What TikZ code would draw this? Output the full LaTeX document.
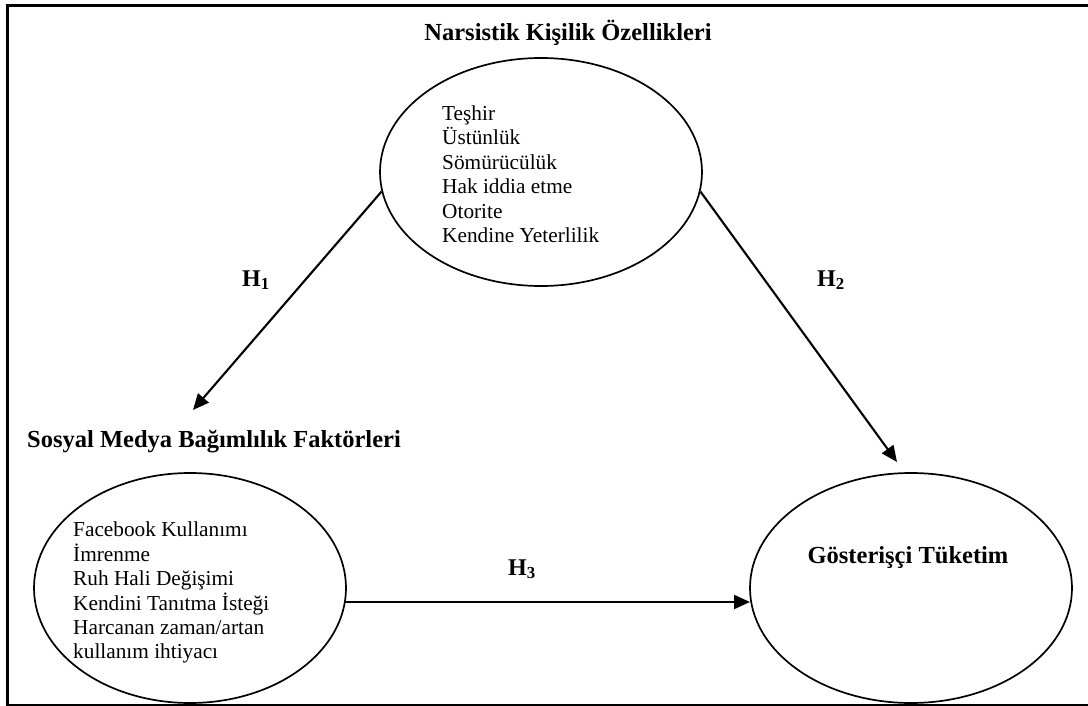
\documentclass[tikz,border=0pt]{standalone}
\usepackage{fontspec}
\setmainfont{Liberation Serif}
\usetikzlibrary{arrows.meta,shapes.geometric}
\begin{document}
\begin{tikzpicture}[x=1pt,y=-1pt,
  oval/.style={draw,ellipse,line width=1.7pt,inner sep=0pt},
  item/.style={align=left,anchor=north west,inner sep=0pt,font=\fontsize{21.3}{24.4}\selectfont},
  head/.style={inner sep=0pt,anchor=base,font=\fontsize{24.5}{28}\selectfont\bfseries},
  hyp/.style={inner sep=0pt,anchor=base,font=\fontsize{24}{28}\selectfont\bfseries},
  link/.style={line width=2.1pt,-{Triangle[length=16pt,width=14pt]}}]
\useasboundingbox (0,0) rectangle (1088,706);
% frame
\draw[line width=2.4pt] (1090,5.5) -- (7.5,5.5) -- (7.5,705) -- (1090,705);

% the three constructs
\node[oval,minimum width=322pt,minimum height=228pt] (narc) at (541,172) {};
\node[oval,minimum width=312pt,minimum height=230pt] (sosyal) at (190,588) {};
\node[oval,minimum width=322pt,minimum height=230pt] (gost) at (911,588) {};

\node[head] (narcT) at (568,41) {Narsistik Kişilik Özellikleri};
\node[head,anchor=base west] (sosyalT) at (27,447) {Sosyal Medya Bağımlılık Faktörleri};
\node[head] (gostT) at (908,563) {Gösterişçi Tüketim};

\node[item] (narcL) at (442,105.5) {Teşhir\\Üstünlük\\Sömürücülük\\Hak iddia etme\\Otorite\\Kendine Yeterlilik};
\node[item] (sosyalL) at (73,522) {Facebook Kullanımı\\İmrenme\\Ruh Hali Değişimi\\Kendini Tanıtma İsteği\\Harcanan zaman/artan\\kullanım ihtiyacı};

% hypotheses
\coordinate (h1end) at (193,410);
\coordinate (h2end) at (897,462);
\coordinate (h3start) at (345,602);
\coordinate (h3end) at (750,602);
\draw[link] (narc.187) -- (h1end);
\draw[link] (narc.353) -- (h2end);
\draw[link] (h3start) -- (h3end);

\node[hyp] (H1) at (256,286) {H\textsubscript{1}};
\node[hyp] (H2) at (831,286) {H\textsubscript{2}};
\node[hyp] (H3) at (522,575) {H\textsubscript{3}};
\end{tikzpicture}
\end{document}
